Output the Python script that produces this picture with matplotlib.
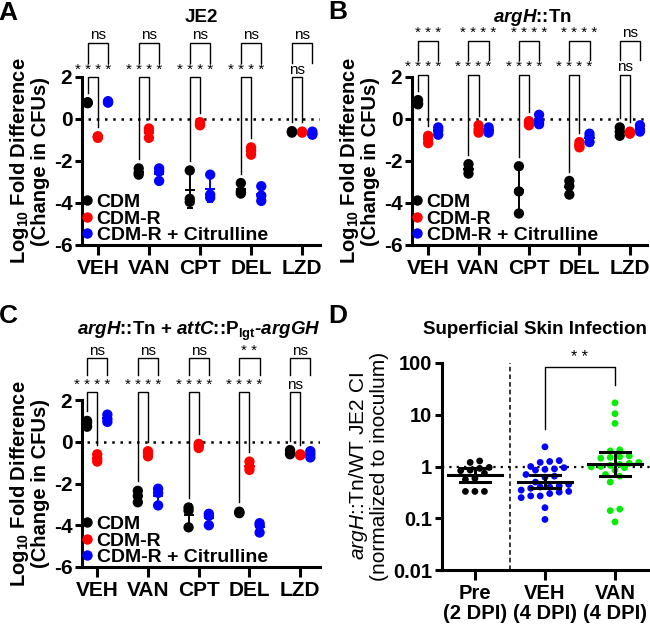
import numpy as np
import matplotlib.pyplot as plt
from matplotlib.lines import Line2D
from matplotlib.ticker import FixedLocator, NullLocator

plt.rcParams['font.family'] = ['Liberation Sans', 'DejaVu Sans']
plt.rcParams['axes.unicode_minus'] = False
plt.rcParams['mathtext.fontset'] = 'custom'
plt.rcParams['mathtext.rm'] = 'Liberation Sans'
plt.rcParams['mathtext.it'] = 'Liberation Sans:italic'
plt.rcParams['mathtext.bf'] = 'Liberation Sans:bold'
plt.rcParams['mathtext.bfit'] = 'Liberation Sans:italic:bold'

drugs = ['VEH', 'VAN', 'CPT', 'DEL', 'LZD']
media = ['CDM', 'CDM-R', 'CDM-R + Citrulline']
media_colors = ['#000000', '#ff0000', '#0000ff']

# log10 fold difference, 3 replicates per drug (VEH, VAN, CPT, DEL, LZD)
je2_cdm = [[0.8, 0.75, 0.78], [-2.35, -2.55, -2.65], [-2.45, -3.8, -3.95], [-3.05, -3.45, -3.55], [-0.6, -0.65, -0.58]]
je2_cdmr = [[-0.85, -0.9, -0.82], [-0.45, -0.6, -0.9], [-0.15, -0.25, -0.3], [-1.35, -1.5, -1.7], [-0.62, -0.65, -0.6]]
je2_cit = [[0.85, 0.8, 0.78], [-2.35, -2.5, -2.95], [-2.65, -3.6, -3.75], [-3.2, -3.65, -3.9], [-0.6, -0.7, -0.75]]

argh_cdm = [[0.9, 0.75, 0.7], [-2.15, -2.4, -2.6], [-2.25, -3.45, -4.5], [-2.95, -3.2, -3.6], [-0.4, -0.6, -0.8]]
argh_cdmr = [[-0.8, -0.95, -1.15], [-0.3, -0.5, -0.65], [-0.1, -0.2, -0.3], [-1.1, -1.25, -1.35], [-0.6, -0.7, -0.65]]
argh_cit = [[-0.4, -0.55, -0.75], [-0.4, -0.55, -0.65], [0.2, -0.1, -0.25], [-0.7, -0.85, -1.1], [-0.3, -0.5, -0.6]]

comp_cdm = [[1.0, 0.9, 0.72], [-2.35, -2.6, -2.9], [-3.15, -3.3, -4.1], [-3.35, -3.4, -3.42], [-0.4, -0.5, -0.6]]
comp_cdmr = [[-0.6, -0.8, -0.95], [-0.45, -0.55, -0.7], [-0.1, -0.2, -0.3], [-0.95, -1.2, -1.35], [-0.62, -0.6, -0.65]]
comp_cit = [[1.3, 1.1, 0.95], [-2.25, -2.45, -3.05], [-3.45, -3.55, -4.0], [-3.9, -4.0, -4.35], [-0.45, -0.6, -0.75]]

# significance: CDM vs CDM-R (lower) and CDM vs CDM-R + Citrulline (upper)
sig_lower_a = ['****', '****', '****', '****', 'ns']
sig_upper_a = ['ns', 'ns', 'ns', 'ns', 'ns']
sig_lower_b = ['****', '****', '****', '****', 'ns']
sig_upper_b = ['***', '****', '****', '****', 'ns']
sig_lower_c = ['****', '****', '****', '****', 'ns']
sig_upper_c = ['ns', 'ns', 'ns', '**', 'ns']

# panel D: competitive index
skin_groups = ['Pre\n(2 DPI)', 'VEH\n(4 DPI)', 'VAN\n(4 DPI)']
skin_colors = ['#000000', '#0000ff', '#00ee00']
ci_pre = [1.28, 1.2, 0.96, 0.92, 0.85, 0.83, 0.74, 0.59, 0.56, 0.33, 0.33, 0.33]
ci_veh = [2.4, 1.3, 1.25, 1.2, 1.0, 0.95, 0.9, 0.88, 0.85, 0.7, 0.65, 0.62, 0.5, 0.45, 0.42,
          0.4, 0.4, 0.38, 0.35, 0.33, 0.32, 0.3, 0.27, 0.27, 0.25, 0.16, 0.095]
ci_van = [17, 10.5, 6.8, 2.1, 2.0, 1.6, 1.55, 1.5, 1.45, 1.2, 1.15, 1.1, 1.05, 1.0, 0.98,
          0.95, 0.85, 0.7, 0.65, 0.5, 0.15, 0.14, 0.085]

W, H = 650, 628
fig = plt.figure(figsize=(6.5, 6.28), dpi=100)


def add_axes_px(left, top, right, bottom):
    return fig.add_axes([left / W, 1 - bottom / H, (right - left) / W, (bottom - top) / H])


def style_axes(ax, xsize=15, ysize=15):
    for side in ['top', 'right']:
        ax.spines[side].set_visible(False)
    for side in ['left', 'bottom']:
        ax.spines[side].set_linewidth(2.2)
    ax.tick_params(axis='y', width=2.2, length=5, pad=2, labelsize=ysize)
    ax.tick_params(axis='x', width=2.2, length=7, pad=3, labelsize=xsize)
    for lab in ax.get_xticklabels() + ax.get_yticklabels():
        lab.set_fontweight('bold')


def sig_text(s):
    return ' '.join(s) if s.startswith('*') else s


def bracket(ax, x0, x1, y_left, y_right, top, label):
    ax.plot([x0, x0, x1, x1], [y_left, top, top, y_right], color='black', lw=1.0,
            clip_on=False, zorder=5, solid_joinstyle='miter')
    ax.text((x0 + x1) / 2, top + 0.02, sig_text(label), ha='center', va='bottom',
            fontsize=11, clip_on=False)


def fold_panel(ax, groups, sig_low, sig_up, low_top, up_top, up_leg, xlim):
    offsets = [-0.2, 0.0, 0.2]
    ax.set_xlim(*xlim)
    ax.set_ylim(-6, 2)
    ax.plot([-0.2, xlim[1]], [0, 0], ls=(0, (1, 2.3)), lw=1.8, color='black', zorder=1)
    for vals, color, off in zip(groups, media_colors, offsets):
        for i, reps in enumerate(vals):
            x = i + off
            m, sd = np.mean(reps), np.std(reps, ddof=1)
            ax.errorbar(x, m, yerr=sd, color=color, capsize=2.5, elinewidth=1.4,
                        capthick=1.4, zorder=2)
            ax.plot([x - 0.08, x + 0.08], [m, m], color=color, lw=1.4, zorder=2)
            ax.scatter([x] * len(reps), reps, s=55, color=color, edgecolors='none', zorder=3)
    gap = 0.45
    for i in range(len(drugs)):
        top_cdm = max(groups[0][i]) + gap
        top_r = max(groups[1][i]) + gap
        bracket(ax, i - 0.2, i, min(top_cdm, low_top - 0.3), min(top_r, low_top - 0.3),
                low_top, sig_low[i])
        bracket(ax, i - 0.2, i + 0.2, up_leg, up_leg, up_top, sig_up[i])
    ax.set_xticks(range(len(drugs)))
    ax.set_xticklabels(drugs)
    ax.set_yticks([-6, -4, -2, 0, 2])
    ax.set_ylabel('Log$_{\\mathbf{10}}$ Fold Difference\n(Change in CFUs)', fontsize=14.5,
                  fontweight='bold', linespacing=1.0)
    ax.yaxis.set_label_coords(-0.135, 0.5)
    style_axes(ax)
    handles = [Line2D([], [], ls='none', marker='o', ms=7.5, color=c, mec='none') for c in media_colors]
    ax.legend(handles, media, loc='lower left', bbox_to_anchor=(0.0, 0.0), frameon=False,
              handlelength=0.45, handletextpad=0.25, labelspacing=-0.06, borderaxespad=0.0,
              borderpad=0.05, prop={'weight': 'bold', 'size': 14})


ax_a = add_axes_px(82, 77, 320, 245)
fold_panel(ax_a, [je2_cdm, je2_cdmr, je2_cit], sig_lower_a, sig_upper_a, 2.0, 3.63, 2.65, (-0.31, 4.35))
ax_b = add_axes_px(412, 77, 647, 245)
fold_panel(ax_b, [argh_cdm, argh_cdmr, argh_cit], sig_lower_b, sig_upper_b, 2.1, 3.73, 2.8, (-0.32, 4.34))
ax_c = add_axes_px(82, 400, 320, 567)
fold_panel(ax_c, [comp_cdm, comp_cdmr, comp_cit], sig_lower_c, sig_upper_c, 2.37, 4.0, 3.2, (-0.3, 4.39))

fig.text(201 / W, 1 - 18 / H, 'JE2', ha='center', va='center', fontsize=13.5, fontweight='bold')
fig.text(532 / W, 1 - 17 / H, r'$\mathbfit{argH}$::Tn', ha='center', va='center', fontsize=13.5,
         fontweight='bold')
fig.text(199 / W, 1 - 331 / H, r'$\mathbfit{argH}$::Tn + $\mathbfit{attC}$::P$_{\mathbf{lgt}}$-$\mathbfit{argGH}$',
         ha='center', va='center', fontsize=13.5, fontweight='bold')

# panel D
ax_d = add_axes_px(442, 363, 650, 570)
ax_d.set_yscale('log')
ax_d.set_ylim(0.01, 100)
ax_d.set_xlim(-0.47, 2.5)


def swarm_x(ax, center, values, dx_px=9.5, row_px=7.0):
    pts = np.column_stack([np.full(len(values), center), values])
    ys = ax.transData.transform(pts)[:, 1]
    px_per_unit = ax.transData.transform((1, 1))[0] - ax.transData.transform((0, 1))[0]
    order = np.argsort(ys)
    rows, current = [], [order[0]]
    for k in order[1:]:
        if ys[k] - ys[current[0]] < row_px:
            current.append(k)
        else:
            rows.append(current)
            current = [k]
    rows.append(current)
    xs = np.zeros(len(values))
    for row in rows:
        n = len(row)
        for m, k in enumerate(row):
            xs[k] = center + (m - (n - 1) / 2) * dx_px / px_per_unit
    return xs


def t95(n):
    df = n - 1
    z = 1.959964
    return z + (z ** 3 + z) / (4 * df) + (5 * z ** 5 + 16 * z ** 3 + 3 * z) / (96 * df ** 2)


ax_d.axhline(1, ls=(0, (1, 2.3)), lw=1.6, color='black', zorder=1)
ax_d.axvline(0.5, ls=(0, (3, 2)), lw=1.1, color='black', zorder=1)
for i, (vals, color) in enumerate(zip([ci_pre, ci_veh, ci_van], skin_colors)):
    vals = np.array(vals, dtype=float)
    xs = swarm_x(ax_d, i, vals)
    ax_d.scatter(xs, vals, s=24, color=color, edgecolors='none', zorder=3)
    logs = np.log10(vals)
    m = logs.mean()
    half = t95(len(vals)) * logs.std(ddof=1) / np.sqrt(len(vals))
    ax_d.plot([i - 0.39, i + 0.39], [10 ** m] * 2, color='black', lw=2.2, zorder=4)
    ax_d.plot([i, i], [10 ** (m - half), 10 ** (m + half)], color='black', lw=2.2, zorder=4)
    for y in (m - half, m + half):
        ax_d.plot([i - 0.21, i + 0.21], [10 ** y] * 2, color='black', lw=2.2, zorder=4)

leg_l = max(ci_veh) * 10 ** 0.35
leg_r = max(ci_van) * 10 ** 0.35
ax_d.plot([1, 1, 2, 2], [leg_l, 85, 85, leg_r], color='black', lw=1.0, clip_on=False, zorder=5)
ax_d.text(1.5, 90, '* *', ha='center', va='bottom', fontsize=11.5, clip_on=False)

ax_d.yaxis.set_major_locator(FixedLocator([0.01, 0.1, 1, 10, 100]))
ax_d.yaxis.set_minor_locator(NullLocator())
ax_d.set_yticklabels(['0.01', '0.1', '1', '10', '100'])
ax_d.set_xticks(range(len(skin_groups)))
ax_d.set_xticklabels(skin_groups, linespacing=1.05)
ax_d.set_ylabel('$\\mathit{argH}$::Tn/WT JE2 CI\n(normalized to inoculum)', fontsize=15,
                linespacing=1.0)
ax_d.yaxis.set_label_coords(-0.255, 0.5)
style_axes(ax_d, xsize=14.5, ysize=14.5)
fig.text(535 / W, 1 - 330 / H, 'Superficial Skin Infection', ha='center', va='center',
         fontsize=13.5, fontweight='bold')

for letter, x, y in [('A', 8, 13), ('B', 338, 12), ('C', 8, 316), ('D', 338, 316)]:
    fig.text(x / W, 1 - y / H, letter, ha='center', va='center', fontsize=19, fontweight='bold')

fig.savefig('out.png', dpi=100)
